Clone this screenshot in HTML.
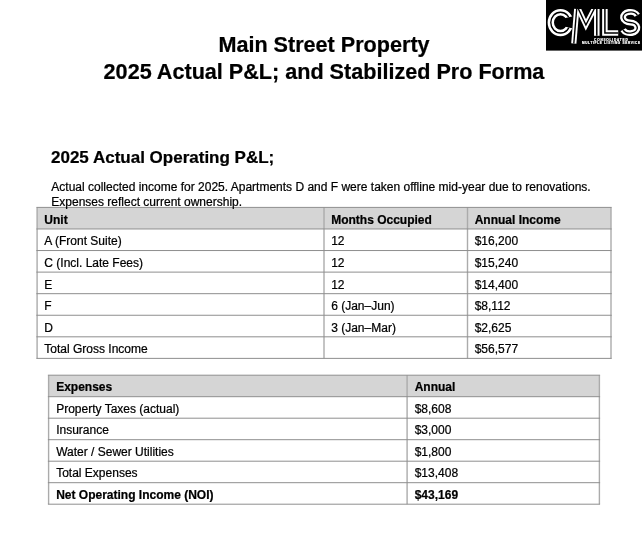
<!DOCTYPE html>
<html><head><meta charset="utf-8">
<style>
html,body{margin:0;padding:0;background:#fff;}
body{width:642px;height:543px;position:relative;overflow:hidden;font-family:"Liberation Sans",Arial,Helvetica,sans-serif;color:#000;-webkit-text-stroke:0.22px #000;}
h1{position:absolute;left:0;width:648px;top:31.8px;margin:0;text-align:center;font-size:21.6px;line-height:26.8px;font-weight:bold;white-space:nowrap;}
h2{position:absolute;left:51px;top:148.3px;margin:0;font-size:17px;line-height:20px;font-weight:bold;white-space:nowrap;}
p{position:absolute;left:51.3px;top:180.2px;margin:0;font-size:12px;line-height:14.7px;white-space:nowrap;}
.c{position:absolute;font-size:12px;line-height:14px;white-space:nowrap;}
.b{font-weight:bold;}
#logo{position:absolute;left:546px;top:0;}
#grid{position:absolute;left:0;top:0;}
#grid .v{stroke:#ababab;stroke-width:1.4;}
#grid .h{stroke:#8e8e8e;stroke-width:1;}
</style></head><body>
<svg id="grid" width="642" height="543" viewBox="0 0 642 543">
<rect x="37.1" y="207.4" width="573.90" height="21.57" fill="#d5d5d5"/>
<line class="v" x1="37.10" y1="207.4" x2="37.10" y2="358.39"/>
<line class="v" x1="324.00" y1="207.4" x2="324.00" y2="358.39"/>
<line class="v" x1="467.50" y1="207.4" x2="467.50" y2="358.39"/>
<line class="v" x1="611.00" y1="207.4" x2="611.00" y2="358.39"/>
<line class="h" x1="36.4" y1="207.40" x2="611.7" y2="207.40"/>
<line class="h" x1="36.4" y1="228.97" x2="611.7" y2="228.97"/>
<line class="h" x1="36.4" y1="250.54" x2="611.7" y2="250.54"/>
<line class="h" x1="36.4" y1="272.11" x2="611.7" y2="272.11"/>
<line class="h" x1="36.4" y1="293.68" x2="611.7" y2="293.68"/>
<line class="h" x1="36.4" y1="315.25" x2="611.7" y2="315.25"/>
<line class="h" x1="36.4" y1="336.82" x2="611.7" y2="336.82"/>
<line class="h" x1="36.4" y1="358.39" x2="611.7" y2="358.39"/>
<rect x="48.6" y="375.2" width="550.80" height="21.50" fill="#d5d5d5"/>
<line class="v" x1="48.60" y1="375.2" x2="48.60" y2="504.20"/>
<line class="v" x1="407.10" y1="375.2" x2="407.10" y2="504.20"/>
<line class="v" x1="599.40" y1="375.2" x2="599.40" y2="504.20"/>
<line class="h" x1="47.9" y1="375.20" x2="600.1" y2="375.20"/>
<line class="h" x1="47.9" y1="396.70" x2="600.1" y2="396.70"/>
<line class="h" x1="47.9" y1="418.20" x2="600.1" y2="418.20"/>
<line class="h" x1="47.9" y1="439.70" x2="600.1" y2="439.70"/>
<line class="h" x1="47.9" y1="461.20" x2="600.1" y2="461.20"/>
<line class="h" x1="47.9" y1="482.70" x2="600.1" y2="482.70"/>
<line class="h" x1="47.9" y1="504.20" x2="600.1" y2="504.20"/>
</svg>
<svg id="logo" width="96" height="51" viewBox="546 0 96 51">
<defs>
<clipPath id="cc"><path clip-rule="evenodd" d="M546 0 H642 V51 H546 Z M561.2 19.06 L600 10.04 L600 34.67 L561.2 25.64 Z"/></clipPath>
<clipPath id="vc"><rect x="570" y="9.0" width="40" height="40"/></clipPath>
</defs>
<rect x="546" y="0" width="96" height="50.6" fill="#000"/>
<g fill="none" stroke-linejoin="miter" stroke-miterlimit="10">
<path d="M 560.5 22.6 m -9.7 0 a 9.7 10.4 0 1 0 19.4 0 a 9.7 10.4 0 1 0 -19.4 0" stroke="#fff" stroke-width="6.4" clip-path="url(#cc)"/>
<path d="M 573.8 43.5 L 576.7 9.0" stroke="#fff" stroke-width="5.2"/>
<path d="M 578.4 9.0 L 585.9 25.0 L 594.2 9.0" stroke="#fff" stroke-width="5.2" clip-path="url(#vc)"/>
<path d="M 596.8 9.0 L 596.8 35.8" stroke="#fff" stroke-width="5.5"/>
<path d="M 604.9 9.0 L 604.9 33.0 L 618.2 33.0" stroke="#fff" stroke-width="5.5"/>
<path d="M 637.3 15.2 A 7.4 5.3 0 1 0 630.2 22.5 A 7.4 5.3 0 1 1 623.1 29.8" stroke="#fff" stroke-width="6.0"/>
<path d="M 560.5 22.6 m -9.7 0 a 9.7 10.4 0 1 0 19.4 0 a 9.7 10.4 0 1 0 -19.4 0" stroke="#000" stroke-width="1.4" clip-path="url(#cc)"/>
<path d="M 573.8 43.5 L 576.7 9.0" stroke="#000" stroke-width="1.4"/>
<path d="M 578.4 9.0 L 585.9 25.0 L 594.2 9.0" stroke="#000" stroke-width="1.4" clip-path="url(#vc)"/>
<path d="M 596.8 9.0 L 596.8 35.8" stroke="#000" stroke-width="1.5"/>
<path d="M 604.9 9.0 L 604.9 33.0 L 618.2 33.0" stroke="#000" stroke-width="1.5"/>
<path d="M 637.3 15.2 A 7.4 5.3 0 1 0 630.2 22.5 A 7.4 5.3 0 1 1 623.1 29.8" stroke="#000" stroke-width="1.4"/>
</g>
<text x="594.1" y="40.7" textLength="33.6" lengthAdjust="spacing" font-family="Liberation Sans, Arial, sans-serif" font-size="3.1" font-weight="bold" fill="#fff" stroke="#fff" stroke-width="0.18" style="-webkit-text-stroke:0">CONSOLIDATED</text>
<text x="582" y="44.2" textLength="58" lengthAdjust="spacing" font-family="Liberation Sans, Arial, sans-serif" font-size="3.1" font-weight="bold" fill="#fff" stroke="#fff" stroke-width="0.18" style="-webkit-text-stroke:0">MULTIPLE LISTING SERVICE</text>
</svg>
<h1>Main Street Property<br>2025 Actual P&amp;L; and Stabilized Pro Forma</h1>
<h2>2025 Actual Operating P&amp;L;</h2>
<p>Actual collected income for 2025. Apartments D and F were taken offline mid-year due to renovations.<br>Expenses reflect current ownership.</p>
<div class="c b" style="left:44.30px;top:212.80px">Unit</div>
<div class="c b" style="left:331.20px;top:212.80px">Months Occupied</div>
<div class="c b" style="left:474.70px;top:212.80px">Annual Income</div>
<div class="c" style="left:44.30px;top:234.37px">A (Front Suite)</div>
<div class="c" style="left:331.20px;top:234.37px">12</div>
<div class="c" style="left:474.70px;top:234.37px">$16,200</div>
<div class="c" style="left:44.30px;top:255.94px">C (Incl. Late Fees)</div>
<div class="c" style="left:331.20px;top:255.94px">12</div>
<div class="c" style="left:474.70px;top:255.94px">$15,240</div>
<div class="c" style="left:44.30px;top:277.51px">E</div>
<div class="c" style="left:331.20px;top:277.51px">12</div>
<div class="c" style="left:474.70px;top:277.51px">$14,400</div>
<div class="c" style="left:44.30px;top:299.08px">F</div>
<div class="c" style="left:331.20px;top:299.08px">6 (Jan–Jun)</div>
<div class="c" style="left:474.70px;top:299.08px">$8,112</div>
<div class="c" style="left:44.30px;top:320.65px">D</div>
<div class="c" style="left:331.20px;top:320.65px">3 (Jan–Mar)</div>
<div class="c" style="left:474.70px;top:320.65px">$2,625</div>
<div class="c" style="left:44.30px;top:342.22px">Total Gross Income</div>
<div class="c" style="left:474.70px;top:342.22px">$56,577</div>
<div class="c b" style="left:56.20px;top:380.10px">Expenses</div>
<div class="c b" style="left:414.70px;top:380.10px">Annual</div>
<div class="c" style="left:56.20px;top:401.60px">Property Taxes (actual)</div>
<div class="c" style="left:414.70px;top:401.60px">$8,608</div>
<div class="c" style="left:56.20px;top:423.10px">Insurance</div>
<div class="c" style="left:414.70px;top:423.10px">$3,000</div>
<div class="c" style="left:56.20px;top:444.60px">Water / Sewer Utilities</div>
<div class="c" style="left:414.70px;top:444.60px">$1,800</div>
<div class="c" style="left:56.20px;top:466.10px">Total Expenses</div>
<div class="c" style="left:414.70px;top:466.10px">$13,408</div>
<div class="c b" style="left:56.20px;top:487.60px">Net Operating Income (NOI)</div>
<div class="c b" style="left:414.70px;top:487.60px">$43,169</div>
</body></html>
